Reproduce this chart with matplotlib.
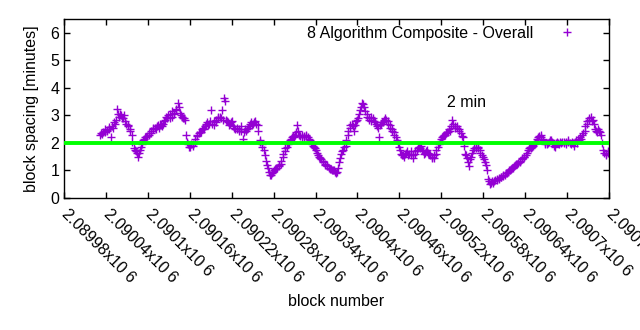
import matplotlib
matplotlib.use("Agg")
import matplotlib.pyplot as plt
import numpy as np

plt.rcParams['font.family'] = ['Liberation Sans', 'DejaVu Sans']

# block numbers: first block and step between plotted points (two interleaved readings)
first_block_a = 2090032
first_block_b = 2090033
block_step = 3

spacing_a = [
    2.28, 2.33, 2.40, 2.48, 2.50, 2.20, 2.55, 2.70, 3.22, 2.95,
    3.00, 2.90, 2.80, 2.60, 2.50, 2.30, 1.80, 1.70, 1.50, 1.75,
    1.95, 2.15, 2.20, 2.30, 2.35, 2.50, 2.55, 2.60, 2.55, 2.65,
    2.70, 2.85, 2.90, 3.05, 2.95, 3.10, 3.25, 3.45, 3.10, 2.95,
    2.90, 2.30, 1.95, 1.85, 1.90, 2.05, 2.25, 2.35, 2.40, 2.55,
    2.60, 2.75, 2.70, 3.20, 2.65, 2.75, 2.90, 2.95, 3.20, 3.62,
    2.85, 2.75, 2.70, 2.80, 2.55, 2.50, 2.45, 2.60, 2.15, 2.50,
    2.50, 2.60, 2.75, 2.70, 2.80, 2.65, 2.10, 1.95, 1.75, 1.35,
    1.10, 0.85, 0.90, 1.00, 1.10, 1.15, 1.25, 1.50, 1.70, 1.85,
    2.00, 2.15, 2.25, 2.30, 2.65, 2.30, 2.20, 2.25, 2.30, 2.20,
    2.10, 1.95, 1.85, 1.75, 1.55, 1.45, 1.35, 1.25, 1.20, 1.10,
    1.05, 1.00, 0.95, 0.95, 1.30, 1.60, 1.75, 1.90, 2.30, 2.55,
    2.70, 2.45, 2.80, 2.90, 3.20, 3.45, 3.30, 3.05, 2.90, 2.80,
    2.90, 2.75, 2.60, 2.20, 2.70, 2.75, 2.90, 2.80, 2.65, 2.50,
    2.40, 2.20, 2.00, 1.75, 1.55, 1.50, 1.65, 1.55, 1.70, 1.45,
    1.60, 1.75, 1.85, 1.90, 1.70, 1.65, 1.75, 1.60, 1.50, 1.45,
    1.60, 1.85, 2.05, 2.20, 2.30, 2.35, 2.40, 2.45, 2.85, 2.60,
    2.55, 2.50, 2.35, 2.20, 1.60, 1.45, 1.15, 1.50, 1.75, 1.85,
    1.80, 1.75, 1.55, 1.40, 1.20, 0.70, 0.50, 0.60, 0.60, 0.65,
    0.70, 0.75, 0.80, 0.85, 0.90, 1.00, 1.05, 1.10, 1.20, 1.25,
    1.30, 1.40, 1.50, 1.55, 1.75, 1.85, 1.85, 1.95, 2.05, 2.20,
    2.30, 2.15, 2.00, 1.95, 2.05, 2.10, 2.00, 1.85, 2.05, 1.95,
    2.00, 2.05, 1.95, 2.10, 2.00, 2.05, 1.90, 2.10, 2.15, 2.20,
    2.30, 2.45, 2.70, 2.85, 2.95, 2.85, 2.50, 2.40, 2.45, 2.30,
    1.75, 1.60, 1.70,
]

spacing_b = [
    2.35, 2.38, 2.50, 2.42, 2.58, 2.62, 2.75, 2.85, 3.05, 3.05,
    2.92, 3.00, 2.70, 2.65, 2.45, 2.05, 1.75, 1.62, 1.65, 1.85,
    2.10, 2.20, 2.25, 2.35, 2.45, 2.55, 2.50, 2.65, 2.70, 2.60,
    2.80, 2.95, 3.00, 2.90, 3.15, 3.05, 3.20, 3.30, 3.00, 2.90,
    2.85, 2.05, 1.85, 1.95, 1.95, 2.15, 2.30, 2.40, 2.50, 2.50,
    2.70, 2.65, 2.80, 2.70, 2.80, 2.85, 2.95, 2.90, 2.85, 3.52,
    2.80, 2.65, 2.75, 2.60, 2.50, 2.55, 2.50, 2.45, 2.40, 2.45,
    2.55, 2.70, 2.65, 2.75, 2.70, 2.45, 2.05, 1.85, 1.55, 1.20,
    0.95, 0.85, 0.95, 1.05, 1.10, 1.20, 1.35, 1.60, 1.80, 1.95,
    2.10, 2.20, 2.20, 2.40, 2.45, 2.25, 2.30, 2.20, 2.25, 2.15,
    2.00, 1.90, 1.80, 1.65, 1.50, 1.40, 1.30, 1.20, 1.15, 1.05,
    1.00, 1.00, 0.92, 1.10, 1.45, 1.70, 1.85, 2.10, 2.45, 2.65,
    2.60, 2.65, 2.85, 3.05, 3.30, 3.40, 3.15, 2.95, 2.85, 2.95,
    2.80, 2.70, 2.55, 2.65, 2.75, 2.85, 2.85, 2.70, 2.55, 2.45,
    2.30, 2.10, 1.85, 1.60, 1.55, 1.60, 1.70, 1.60, 1.55, 1.55,
    1.70, 1.80, 1.80, 1.75, 1.60, 1.70, 1.65, 1.55, 1.45, 1.55,
    1.75, 1.95, 2.15, 2.25, 2.30, 2.40, 2.50, 2.60, 2.70, 2.55,
    2.60, 2.45, 2.25, 1.90, 1.55, 1.30, 1.40, 1.65, 1.80, 1.80,
    1.85, 1.65, 1.50, 1.30, 1.00, 0.60, 0.55, 0.55, 0.65, 0.70,
    0.72, 0.78, 0.85, 0.90, 0.95, 1.00, 1.08, 1.15, 1.22, 1.28,
    1.35, 1.45, 1.50, 1.65, 1.80, 1.80, 1.90, 2.00, 2.15, 2.25,
    2.20, 2.10, 1.95, 2.00, 2.10, 2.05, 1.90, 2.00, 2.00, 2.05,
    2.05, 2.00, 2.05, 2.05, 1.95, 2.00, 2.05, 2.00, 2.10, 2.15,
    2.35, 2.60, 2.80, 2.90, 2.80, 2.70, 2.45, 2.50, 2.40, 2.00,
    1.65, 1.55, 1.65,
]

blocks_a = first_block_a + block_step * np.arange(len(spacing_a))
blocks_b = first_block_b + block_step * np.arange(len(spacing_b))
blocks = np.concatenate([blocks_a, blocks_b])
spacing = np.concatenate([spacing_a, spacing_b])
order = np.argsort(blocks)
blocks = blocks[order]
spacing = spacing[order]

target = 2.0
x_ticks = [2089980 + 60 * k for k in range(14)]
x_labels = ["%gx10 6" % (t / 1e6) for t in x_ticks]
y_ticks = [0, 1, 2, 3, 4, 5, 6]

fig = plt.figure(figsize=(6.4, 3.3), dpi=100)
ax = fig.add_axes([64 / 640, 1 - 198 / 330, 545 / 640, 179 / 330])

ax.plot(blocks, spacing, linestyle='none', marker='+', markersize=6,
        markeredgewidth=1.0, color='#9400D3',
        label='8 Algorithm Composite - Overall', zorder=2)
ax.axhline(target, color='#00FF00', linewidth=2.8, zorder=3)

ax.set_xlim(2089980, 2090760)
ax.set_ylim(0, 6.5)
ax.set_xticks(x_ticks)
ax.set_xticklabels(x_labels, rotation=-45, ha='left', va='center',
                   rotation_mode='anchor', fontsize=10.5)
ax.set_yticks(y_ticks)
ax.tick_params(direction='in', top=True, right=True, length=4.5, width=1,
               labelsize=11.5)
ax.tick_params(axis='x', pad=10)
for s in ax.spines.values():
    s.set_linewidth(1.0)

ax.set_xlabel('block number', fontsize=11.5, labelpad=6)
ax.set_ylabel('block spacing [minutes]', fontsize=11.5, labelpad=8)

ax.text(2090528, 3.48, '2 min', fontsize=11.5, ha='left', va='center')

ax.legend(loc='upper right', bbox_to_anchor=(0.9523, 0.962), frameon=False,
          markerfirst=False, fontsize=11.5, borderpad=0, borderaxespad=0,
          handletextpad=1.1, handlelength=2.0)

fig.savefig('out.png', dpi=100)
